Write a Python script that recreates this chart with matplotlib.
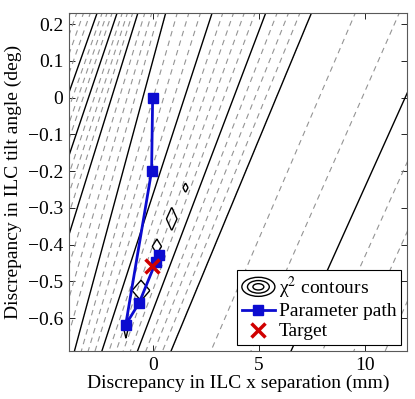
import numpy as np
import matplotlib
matplotlib.use('Agg')
import matplotlib.pyplot as plt
from matplotlib.legend_handler import HandlerBase
from matplotlib.patches import Ellipse
from matplotlib.lines import Line2D

plt.rcParams['font.family'] = 'Liberation Serif'
plt.rcParams['font.size'] = 14
plt.rcParams['mathtext.fontset'] = 'stix'
plt.rcParams['axes.unicode_minus'] = True

# chi^2 contour lines, read where each solid line meets the bottom (y=-0.68)
# and the top (y=0.23) of the frame; dashed levels sit evenly between them
y_bot, y_top = -0.68, 0.23
solid_bottom = [-12.0, -9.5, -8.2, -7.0, -5.6, -3.64, -2.34, -0.65, 0.93, 6.6, 14.0]
solid_top    = [-6.0, -3.9, -2.62, -1.68, -0.70, 0.61, 2.80, 5.33, 7.48, 13.7, 21.0]
dashed_count = [3, 3, 3, 3, 3, 3, 4, 3, 2, 4]
drawn_solid = [1, 2, 3, 4, 5, 6, 7, 8, 9]

# small closed contours along the valley
diamond_x = [1.55, 0.9, 0.2, -0.55, -1.26]
diamond_y = [-0.245, -0.33, -0.405, -0.525, -0.635]
diamond_w = [0.12, 0.25, 0.22, 0.42, 0.08]
diamond_h = [0.013, 0.032, 0.02, 0.028, 0.02]

# parameter path and target
path_x = [0.0, -0.05, -1.27, -0.64, 0.15, 0.30]
path_y = [0.0, -0.20, -0.618, -0.559, -0.447, -0.427]
target_x = [-0.05]
target_y = [-0.459]

xs = np.linspace(-4.5, 12.5, 500)
ys = np.linspace(-0.72, 0.26, 400)
X, Y = np.meshgrid(xs, ys)
sb = np.array(solid_bottom)
st = np.array(solid_top)
Z = np.zeros_like(X)
for i, yy in enumerate(ys):
    knots = sb + (st - sb) * (yy - y_bot) / (y_top - y_bot)
    Z[i, :] = np.interp(xs, knots, np.arange(len(knots)))

dashed_levels = []
for k, n in enumerate(dashed_count):
    for j in range(1, n + 1):
        dashed_levels.append(k + j / (n + 1.0))

B = np.full_like(X, -1.0)
for cx, cy, w, h in zip(diamond_x, diamond_y, diamond_w, diamond_h):
    B = np.maximum(B, 1 - np.abs(X - cx) / w - np.abs(Y - cy) / h)

fig = plt.figure(figsize=(4.15, 3.99), dpi=100)
ax = fig.add_axes([0.166, 0.120, 0.815, 0.847])

ax.contour(X, Y, Z, levels=sorted(dashed_levels), colors='0.58',
           linewidths=0.8, linestyles=[(0, (5, 4))])
ax.contour(X, Y, Z, levels=drawn_solid, colors='k', linewidths=1.0,
           linestyles='solid')
ax.contour(X, Y, B, levels=[0.0], colors='k', linewidths=1.0)

ax.plot(path_x, path_y, '-s', color='#0c0cd0', lw=2, ms=7, mec='#0c0cd0')
ax.plot(target_x, target_y, 'x', color='#d00000', ms=10, mew=2.5)

ax.set_xlim(-3.95, 12.0)
ax.set_ylim(-0.69, 0.23)
ax.set_xticks([0, 5, 10])
ax.set_yticks([0.2, 0.1, 0, -0.1, -0.2, -0.3, -0.4, -0.5, -0.6])
ax.set_yticklabels(['0.2', '0.1', '0', '\u22120.1', '\u22120.2', '\u22120.3',
                    '\u22120.4', '\u22120.5', '\u22120.6'])
ax.tick_params(direction='in', top=True, right=True, length=4, width=0.6,
               labelsize=14, pad=4)
for s in ax.spines.values():
    s.set_linewidth(0.8)
    s.set_color('0.35')
ax.set_xlabel('Discrepancy in ILC x separation (mm)', labelpad=1)
ax.set_ylabel('Discrepancy in ILC tilt angle (deg)', labelpad=4)


class Rings:
    pass


class RingsHandler(HandlerBase):
    def create_artists(self, legend, orig_handle, xdescent, ydescent,
                       width, height, fontsize, trans):
        cx = 0.5 * width - xdescent
        cy = 0.5 * height - ydescent
        arts = []
        for s in (1.0, 0.66, 0.33):
            arts.append(Ellipse((cx, cy), width * s, height * 1.4 * s,
                                fill=False, edgecolor='k', lw=1.0,
                                transform=trans))
        return arts


h_path = Line2D([], [], color='#0c0cd0', lw=2, marker='s', ms=7)
h_target = Line2D([], [], color='#d00000', lw=0, marker='x', ms=10, mew=2.5)
leg = ax.legend([Rings(), h_path, h_target],
                ['\u03c7$^2$ contours', 'Parameter path', 'Target'],
                handler_map={Rings: RingsHandler()},
                loc='lower right', fancybox=False, framealpha=1,
                edgecolor='k', borderpad=0.25, handlelength=1.7,
                handletextpad=0.2, labelspacing=0.12, borderaxespad=0.3,
                fontsize=14)
leg.get_frame().set_linewidth(0.8)

fig.savefig('out.png', dpi=100)
